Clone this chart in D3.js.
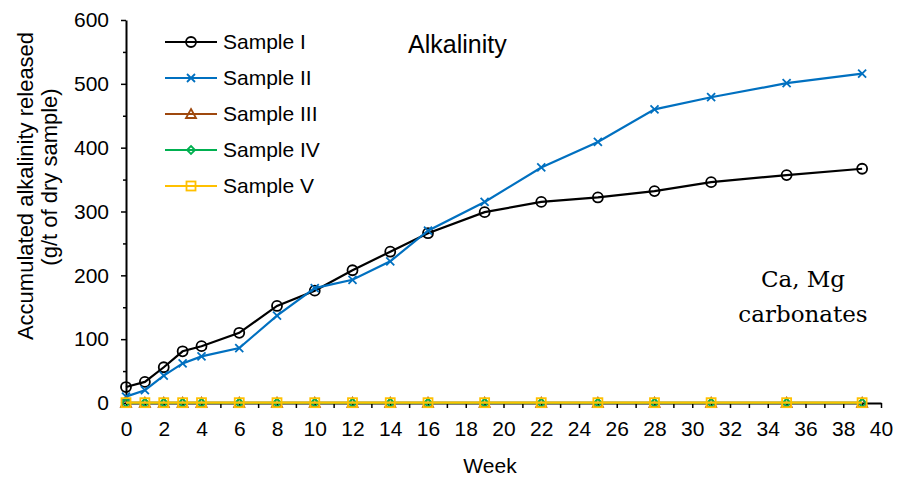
<!DOCTYPE html>
<html>
<head>
<meta charset="utf-8">
<script src="https://cdn.jsdelivr.net/npm/d3@7"></script>
<style>
  body { margin: 0; background: #fff; }
  svg { display: block; font-family: "Liberation Sans", Arial, sans-serif; }
</style>
</head>
<body>
<div id="chart"></div>
<script>
// weeks de mesure
const weeks = [0, 1, 2, 3, 4, 6, 8, 10, 12, 14, 16, 19, 22, 25, 28, 31, 35, 39];

const sample1 = [25, 33, 56, 81, 89, 110, 152, 176, 208, 237, 266, 299, 315, 322, 332, 346, 357, 367];
const sample2 = [10, 20, 43, 62, 73, 86, 137, 180, 193, 222, 270, 315, 369, 409, 460, 479, 501, 516];
const sample3 = [0.4, 0.4, 0.4, 0.4, 0.4, 0.4, 0.4, 0.4, 0.4, 0.4, 0.4, 0.4, 0.4, 0.4, 0.4, 0.4, 0.4, 0.4];
const sample4 = [0.3, 0.3, 0.3, 0.3, 0.3, 0.3, 0.3, 0.3, 0.3, 0.3, 0.3, 0.3, 0.3, 0.3, 0.3, 0.3, 0.3, 0.3];
const sample5 = [0.5, 0.5, 0.5, 0.5, 0.5, 0.5, 0.5, 0.5, 0.5, 0.5, 0.5, 0.5, 0.5, 0.5, 0.5, 0.5, 0.5, 0.5];

const seriesNames = ["Sample I", "Sample II", "Sample III", "Sample IV", "Sample V"];
const xTicks = d3.range(0, 41, 2);
const yTicks = [0, 100, 200, 300, 400, 500, 600];

const series = [
    { name: seriesNames[0], values: sample1, color: "#000000", marker: "circle" },
    { name: seriesNames[1], values: sample2, color: "#0070C0", marker: "cross" },
    { name: seriesNames[2], values: sample3, color: "#9E480E", marker: "triangle" },
    { name: seriesNames[3], values: sample4, color: "#00B050", marker: "diamond" },
    { name: seriesNames[4], values: sample5, color: "#FFC000", marker: "square" }
];

const width = 897, height = 478;
const margin = { top: 20, right: 16, bottom: 75, left: 126 };

const svg = d3.select("#chart").append("svg")
    .attr("width", width)
    .attr("height", height);

const x = d3.scaleLinear().domain([0, 40]).range([margin.left, width - margin.right]);
const y = d3.scaleLinear().domain([0, 600]).range([height - margin.bottom, margin.top]);

// axe Y
const yAxis = svg.append("g")
    .attr("transform", `translate(${margin.left},0)`)
    .call(d3.axisLeft(y).tickValues(yTicks).tickSize(5).tickPadding(12).tickSizeOuter(0));
yAxis.select(".domain").attr("stroke-width", 2);
yAxis.selectAll(".tick line").attr("stroke-width", 1.5);
yAxis.selectAll("text").style("font-size", "21px").attr("fill", "#000");
// petites graduations
svg.append("g")
    .attr("transform", `translate(${margin.left},0)`)
    .call(d3.axisLeft(y).tickValues(d3.range(50, 600, 100)).tickSize(3).tickFormat(""))
    .call(g => g.select(".domain").remove())
    .selectAll("line").attr("stroke-width", 1.5);

// axe X
const xAxis = svg.append("g")
    .attr("transform", `translate(0,${y(0)})`)
    .call(d3.axisBottom(x).tickValues(d3.range(0, 41, 1)).tickSize(5).tickSizeOuter(0)
        .tickFormat(d => xTicks.includes(d) ? d : ""));
xAxis.select(".domain").attr("stroke-width", 2);
xAxis.selectAll(".tick line").attr("stroke-width", 1.5);
xAxis.selectAll("text").style("font-size", "21px").attr("fill", "#000").attr("y", 18);

// titres
svg.append("text")
    .attr("x", 490)
    .attr("y", 473)
    .attr("text-anchor", "middle")
    .style("font-size", "21px")
    .text("Week");

svg.append("text")
    .attr("transform", "translate(33,186) rotate(-90)")
    .attr("text-anchor", "middle")
    .style("font-size", "22px")
    .text("Accumulated alkalinity released");
svg.append("text")
    .attr("transform", "translate(57,177) rotate(-90)")
    .attr("text-anchor", "middle")
    .style("font-size", "22px")
    .text("(g/t of dry sample)");

svg.append("text")
    .attr("x", 408)
    .attr("y", 53)
    .style("font-size", "25px")
    .text("Alkalinity");

const note = svg.append("text")
    .attr("text-anchor", "middle")
    .style("font-family", "'DejaVu Serif', 'Liberation Serif', serif")
    .style("font-size", "23px");
note.append("tspan").attr("x", 803).attr("y", 287).text("Ca, Mg");
note.append("tspan").attr("x", 803).attr("y", 322).text("carbonates");

// marqueurs
function drawMarker(g, type, color, cx, cy) {
    if (type === "circle") {
        g.append("circle").attr("cx", cx).attr("cy", cy).attr("r", 5)
            .attr("fill", "none").attr("stroke", color).attr("stroke-width", 1.8);
    } else if (type === "cross") {
        g.append("path").attr("d", `M${cx - 4},${cy - 4}L${cx + 4},${cy + 4}M${cx - 4},${cy + 4}L${cx + 4},${cy - 4}`)
            .attr("stroke", color).attr("stroke-width", 1.8);
    } else if (type === "triangle") {
        g.append("path").attr("d", `M${cx},${cy - 5}L${cx + 5},${cy + 4}L${cx - 5},${cy + 4}Z`)
            .attr("fill", "none").attr("stroke", color).attr("stroke-width", 1.8);
    } else if (type === "diamond") {
        g.append("path").attr("d", `M${cx},${cy - 4}L${cx + 4},${cy}L${cx},${cy + 4}L${cx - 4},${cy}Z`)
            .attr("fill", "none").attr("stroke", color).attr("stroke-width", 1.8);
    } else if (type === "square") {
        g.append("rect").attr("x", cx - 4.5).attr("y", cy - 4.5).attr("width", 9).attr("height", 9)
            .attr("fill", "none").attr("stroke", color).attr("stroke-width", 1.8);
    }
}

const line = d3.line()
    .x((d, i) => x(weeks[i]))
    .y(d => y(d));

series.forEach(s => {
    const g = svg.append("g");
    g.append("path")
        .datum(s.values)
        .attr("d", line)
        .attr("fill", "none")
        .attr("stroke", s.color)
        .attr("stroke-width", 2.2);
    s.values.forEach((v, i) => drawMarker(g, s.marker, s.color, x(weeks[i]), y(v)));
});

// légende
const legend = svg.append("g");
series.forEach((s, i) => {
    const cy = 42 + i * 36;
    legend.append("line")
        .attr("x1", 165).attr("x2", 217).attr("y1", cy).attr("y2", cy)
        .attr("stroke", s.color).attr("stroke-width", 2.2);
    drawMarker(legend, s.marker, s.color, 191, cy);
    legend.append("text")
        .attr("x", 223).attr("y", cy + 7)
        .style("font-size", "21px")
        .text(s.name);
});
</script>
</body>
</html>
